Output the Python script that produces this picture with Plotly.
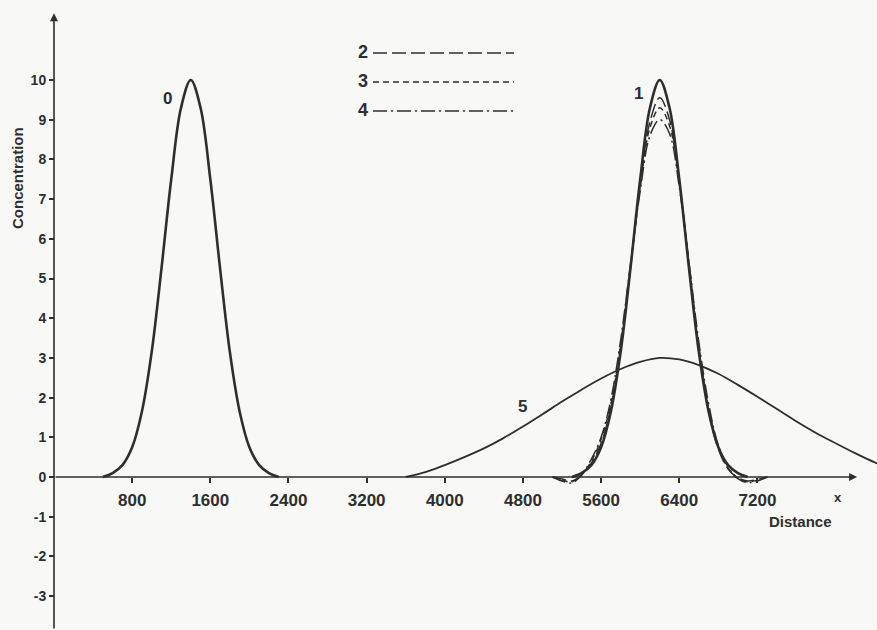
import plotly.graph_objects as go

# ---- data -------------------------------------------------------------
# initial profile (0)
x0 = [500, 600, 700, 800, 900, 1000, 1100, 1200, 1300, 1400, 1500, 1600,
      1700, 1800, 1900, 2000, 2100, 2200, 2300]
c0 = [0.0, 0.1, 0.3, 0.75, 1.65, 3.15, 5.25, 7.5, 9.3, 10.0, 9.3, 7.5,
      5.25, 3.15, 1.65, 0.75, 0.3, 0.1, 0.0]

# exact translated profile (1)
x1 = [5300, 5400, 5500, 5600, 5700, 5800, 5900, 6000, 6100, 6200, 6300, 6400,
      6500, 6600, 6700, 6800, 6900, 7000, 7100]
c1 = [0.0, 0.1, 0.3, 0.75, 1.65, 3.15, 5.25, 7.5, 9.3, 10.0, 9.3, 7.5,
      5.25, 3.15, 1.65, 0.75, 0.3, 0.1, 0.0]

# numerical schemes (2, 3, 4)
xn = [5100, 5200, 5300, 5400, 5500, 5600, 5700, 5800, 5900, 6000, 6100, 6200,
      6300, 6400, 6500, 6600, 6700, 6800, 6900, 7000, 7100, 7200, 7300]
c2 = [0.0, -0.05, -0.1, 0.05, 0.35, 0.85, 1.75, 3.25, 5.25, 7.35, 8.95, 9.55,
      9.0, 7.45, 5.3, 3.2, 1.65, 0.7, 0.2, -0.02, -0.1, -0.06, 0.0]
c3 = [0.0, -0.08, -0.12, 0.05, 0.4, 0.95, 1.85, 3.35, 5.3, 7.3, 8.8, 9.3,
      8.85, 7.4, 5.35, 3.3, 1.75, 0.75, 0.22, -0.03, -0.12, -0.08, 0.0]
c4 = [0.0, -0.1, -0.15, 0.05, 0.45, 1.0, 1.95, 3.45, 5.35, 7.2, 8.6, 9.0,
      8.65, 7.3, 5.4, 3.4, 1.85, 0.8, 0.25, -0.04, -0.14, -0.1, 0.0]

# diffused profile (5)
x5 = [3600, 3800, 4000, 4200, 4400, 4600, 4800, 5000, 5200, 5400, 5600, 5800,
      6000, 6200, 6400, 6600, 6800, 7000, 7200, 7400, 7600, 7800, 8000, 8200,
      8400, 8600]
c5 = [0.0, 0.12, 0.3, 0.5, 0.72, 0.98, 1.27, 1.58, 1.9, 2.2, 2.48, 2.72,
      2.9, 3.0, 2.96, 2.82, 2.6, 2.32, 2.02, 1.71, 1.4, 1.11, 0.85, 0.6,
      0.37, 0.2]

x_ticks = [800, 1600, 2400, 3200, 4000, 4800, 5600, 6400, 7200]
y_ticks = [-3, -2, -1, 0, 1, 2, 3, 4, 5, 6, 7, 8, 9, 10]

legend_names = ["2", "3", "4"]
legend_dashes = ["14px,5px", "6px,4px", "14px,4px,2px,4px"]

# ---- styling ----------------------------------------------------------
INK = "#2e2e2e"
BG = "#f8f8f7"
FONT = "Liberation Sans"
NARROW = "Liberation Sans Narrow, Liberation Sans"

fig = go.Figure()

fig.add_trace(go.Scatter(x=x5, y=c5, mode="lines",
                         line=dict(color=INK, width=1.8, shape="spline")))
for xs, ys, dash in [(xn, c2, legend_dashes[0]), (xn, c3, legend_dashes[1]),
                     (xn, c4, legend_dashes[2])]:
    fig.add_trace(go.Scatter(x=xs, y=ys, mode="lines",
                             line=dict(color=INK, width=1.5, dash=dash,
                                       shape="spline")))
fig.add_trace(go.Scatter(x=x0, y=c0, mode="lines",
                         line=dict(color=INK, width=2.6, shape="spline")))
fig.add_trace(go.Scatter(x=x1, y=c1, mode="lines",
                         line=dict(color=INK, width=2.6, shape="spline")))

X_RANGE = [-552.7, 8423.7]
Y_RANGE = [-3.854, 12.015]

fig.update_layout(
    width=877, height=630,
    margin=dict(l=0, r=0, t=0, b=0),
    paper_bgcolor=BG, plot_bgcolor=BG,
    showlegend=False,
    xaxis=dict(range=X_RANGE, showgrid=False, zeroline=False, showline=False,
               anchor="free", position=(630 - 477) / 630,
               tickvals=x_ticks, ticktext=[str(v) for v in x_ticks],
               ticks="outside", ticklen=5, tickwidth=1.5, tickcolor=INK,
               ticklabelstandoff=3,
               tickfont=dict(family=FONT, size=17, color=INK, weight="bold")),
    yaxis=dict(range=Y_RANGE, showgrid=False, zeroline=False, showline=False,
               anchor="free", position=54 / 877,
               tickvals=y_ticks, ticktext=[str(v) for v in y_ticks],
               ticks="outside", ticklen=5, tickwidth=1.5, tickcolor=INK,
               tickfont=dict(family=NARROW, size=14, color=INK, weight="bold")),
)

# axes drawn as arrows
fig.add_annotation(x=0, y=11.68, ax=0, ay=Y_RANGE[0], xref="x", yref="y",
                   axref="x", ayref="y", text="", showarrow=True,
                   arrowhead=2, arrowsize=1, arrowwidth=1.6, arrowcolor=INK)
fig.add_annotation(x=8220, y=0, ax=0, ay=0, xref="x", yref="y",
                   axref="x", ayref="y", text="", showarrow=True,
                   arrowhead=2, arrowsize=1, arrowwidth=1.6, arrowcolor=INK)

def label(text, px, py, size=16, angle=0, family=FONT):
    fig.add_annotation(x=px / 877, y=1 - py / 630, xref="paper", yref="paper",
                       text=text, showarrow=False, textangle=angle,
                       xanchor="center", yanchor="middle",
                       font=dict(family=family, size=size, color=INK,
                                 weight="bold"))

label("Concentration", 17, 178, size=15, angle=-90)
label("Distance", 800, 521, size=15)
label("x", 838, 497, size=13)
label("0", 167, 98, size=17)
label("1", 638, 93, size=17)
label("5", 522, 406, size=17)

# key for the dashed curves
for i, (name, dash) in enumerate(zip(legend_names, legend_dashes)):
    py = [53, 82, 111][i]
    label(name, 363, py - 1, size=18)
    fig.add_shape(type="line", xref="paper", yref="paper",
                  x0=373 / 877, x1=514 / 877, y0=1 - py / 630, y1=1 - py / 630,
                  line=dict(color=INK, width=1.6, dash=dash))

fig.write_html("out.html")
